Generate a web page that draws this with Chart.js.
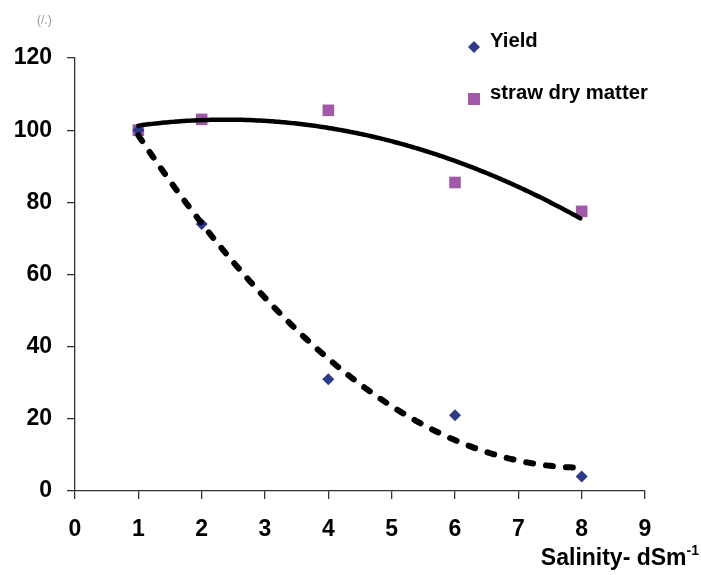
<!DOCTYPE html>
<html>
<head>
<meta charset="utf-8">
<script src="https://cdn.jsdelivr.net/npm/chart.js@4/dist/chart.umd.min.js"></script>
<style>
  html, body { margin: 0; padding: 0; background: #fff; }
  #wrap { width: 701px; height: 575px; }
</style>
</head>
<body>
<div id="wrap"><canvas id="salinityChart" width="701" height="575"></canvas></div>
<script>
// values (relative %, salinity in dS/m)
const salinity = [1, 2, 4, 6, 8];
const yieldPct = [100, 74, 31, 21, 4];
const strawPct = [100, 103, 105.5, 85.5, 77.5];
const seriesNames = ['Yield', 'straw dry matter'];
const yUnit = '(/.)';
const xTitle = 'Salinity- dSm';
const xTitleSup = '-1';

const FONT = '"Liberation Sans", Arial, sans-serif';
const BLUE = '#2c3a88';
const PURPLE = '#a05aa8';

// least squares 2nd order fit, like the spreadsheet trendline
function quadFit(xs, ys) {
    const n = xs.length;
    let sx = 0, sx2 = 0, sx3 = 0, sx4 = 0, sy = 0, sxy = 0, sx2y = 0;
    for (let i = 0; i < n; i++) {
        const x = xs[i], y = ys[i];
        sx += x; sx2 += x * x; sx3 += x * x * x; sx4 += x * x * x * x;
        sy += y; sxy += x * y; sx2y += x * x * y;
    }
    const xm = sx / n, zm = sx2 / n, ym = sy / n;
    const Sxx = sx2 - n * xm * xm;
    const Sxz = sx3 - n * xm * zm;
    const Szz = sx4 - n * zm * zm;
    const Sxy = sxy - n * xm * ym;
    const Szy = sx2y - n * zm * ym;
    const det = Sxx * Szz - Sxz * Sxz;
    const b = (Sxy * Szz - Sxz * Szy) / det;
    const c = (Sxx * Szy - Sxz * Sxy) / det;
    const a = ym - b * xm - c * zm;
    return x => a + b * x + c * x * x;
}

const trendlines = {
    id: 'trendlines',
    afterDatasetsDraw: (chart) => {
        const ctx = chart.ctx;
        const xs = chart.scales.x, ys = chart.scales.y;
        const lines = [
            { f: quadFit(salinity, strawPct), dash: [], width: 4.5 },
            { f: quadFit(salinity, yieldPct), dash: [7, 13], width: 6 }
        ];
        const x0 = Math.min(...salinity), x1 = Math.max(...salinity);
        const p0 = xs.getPixelForValue(x0), p1 = xs.getPixelForValue(x1);
        ctx.save();
        ctx.strokeStyle = '#000';
        ctx.lineCap = 'round';
        ctx.lineJoin = 'round';
        lines.forEach(l => {
            ctx.lineWidth = l.width;
            ctx.setLineDash(l.dash);
            ctx.beginPath();
            for (let px = p0; px <= p1 + 0.01; px += 2) {
                const v = xs.getValueForPixel(Math.min(px, p1));
                const py = ys.getPixelForValue(l.f(v));
                if (px === p0) ctx.moveTo(px, py); else ctx.lineTo(px, py);
            }
            ctx.stroke();
        });
        ctx.restore();
    }
};

const labelsPlugin = {
    id: 'labels',
    afterDraw: (chart) => {
        const ctx = chart.ctx;
        ctx.save();
        // unit note top left
        ctx.fillStyle = '#999';
        ctx.font = '12px ' + FONT;
        ctx.textBaseline = 'alphabetic';
        ctx.fillText(yUnit, 37, 24);

        // legend
        ctx.fillStyle = '#000';
        ctx.font = 'bold 20.3px ' + FONT;
        ctx.fillText(seriesNames[0], 490, 47);
        ctx.fillText(seriesNames[1], 490, 99);
        ctx.fillStyle = BLUE;
        ctx.beginPath();
        ctx.moveTo(474, 41); ctx.lineTo(480, 47); ctx.lineTo(474, 53); ctx.lineTo(468, 47);
        ctx.closePath();
        ctx.fill();
        ctx.fillStyle = PURPLE;
        ctx.fillRect(468, 93, 12, 12);

        // x axis title with superscript
        ctx.fillStyle = '#000';
        ctx.font = 'bold 23px ' + FONT;
        const w = ctx.measureText(xTitle).width;
        ctx.font = 'bold 14px ' + FONT;
        const ws = ctx.measureText(xTitleSup).width;
        const left = 699 - w - ws;
        ctx.font = 'bold 23px ' + FONT;
        ctx.fillText(xTitle, left, 565);
        ctx.font = 'bold 14px ' + FONT;
        ctx.fillText(xTitleSup, left + w, 555);
        ctx.restore();
    }
};

function init() {
    const ctx = document.getElementById('salinityChart');

    const sets = [];
    sets.push({
        label: seriesNames[0],
        data: salinity.map((x, i) => ({ x: x, y: yieldPct[i] })),
        pointStyle: 'rectRot',
        pointRadius: 6,
        backgroundColor: BLUE,
        borderColor: BLUE,
        borderWidth: 0,
        showLine: false
    });
    sets.push({
        label: seriesNames[1],
        data: salinity.map((x, i) => ({ x: x, y: strawPct[i] })),
        pointStyle: 'rect',
        pointRadius: 8.2,
        backgroundColor: PURPLE,
        borderColor: PURPLE,
        borderWidth: 0,
        showLine: false
    });

    const tickFont = { family: FONT, size: 23, weight: 'bold' };

    new Chart(ctx, {
        type: 'scatter',
        data: { datasets: sets },
        options: {
            responsive: false,
            animation: false,
            events: [],
            layout: { padding: { top: 58, right: 56, left: 0, bottom: 0 } },
            plugins: {
                legend: { display: false },
                tooltip: { enabled: false }
            },
            scales: {
                x: {
                    type: 'linear',
                    min: 0,
                    max: 9,
                    ticks: { stepSize: 1, color: '#000', font: tickFont, padding: 17 },
                    grid: { drawOnChartArea: false, tickLength: 8, color: '#333', lineWidth: 1.3 },
                    border: { color: '#333', width: 1.3 },
                    afterFit: (s) => { s.height = 84; }
                },
                y: {
                    min: 0,
                    max: 120,
                    ticks: { stepSize: 20, color: '#000', font: tickFont, padding: 15 },
                    grid: { drawOnChartArea: false, tickLength: 8, color: '#333', lineWidth: 1.3 },
                    border: { color: '#333', width: 1.3 },
                    afterFit: (s) => { s.width = 75; }
                }
            }
        },
        plugins: [trendlines, labelsPlugin]
    });
}

init();
</script>
</body>
</html>
